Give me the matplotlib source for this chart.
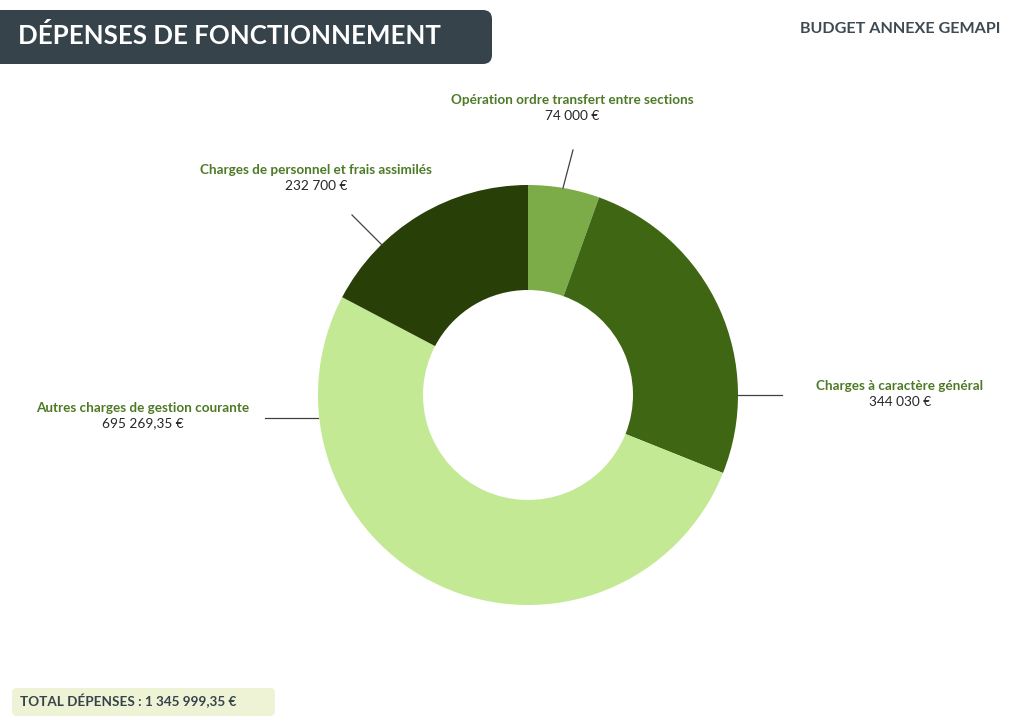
import matplotlib.pyplot as plt
from matplotlib.patches import FancyBboxPatch

# data
categories = ["Opération ordre transfert entre sections",
              "Charges à caractère général",
              "Autres charges de gestion courante",
              "Charges de personnel et frais assimilés"]
amounts = [74000, 344030, 695269.35, 232700]
amount_labels = ["74 000 €", "344 030 €", "695 269,35 €", "232 700 €"]
total_label = "TOTAL DÉPENSES : 1 345 999,35 €"

colors = ["#7BAC47", "#3F6613", "#C3E994", "#283F07"]
label_green = "#4E7A25"
dark = "#262626"

W, H = 1024, 724
def Y(y):
    return H - y

plt.rcParams['font.family'] = ['Lato', 'DejaVu Sans']

fig = plt.figure(figsize=(W/100, H/100), dpi=100)
ax = fig.add_axes([0, 0, 1, 1])

cx, cy, r = 528, Y(395), 210
ax.pie(amounts, colors=colors, startangle=90, counterclock=False,
       center=(cx, cy), radius=r, frame=True,
       wedgeprops=dict(width=r*0.5, linewidth=0))
ax.set_xlim(0, W); ax.set_ylim(0, H)
ax.set_aspect('equal')
ax.axis('off')

# label layout: text centre x, name y, leader (start, end) in pixels
layout = [
    (572, 100, (563, 188), (573, 150)),
    (900, 386, (738, 395), (782, 395)),
    (143, 408, (318, 418), (265, 418)),
    (316, 170, (382, 245), (352, 215)),
]
for name, val, (tx, ty, p0, p1) in zip(categories, amount_labels, layout):
    ax.plot([p0[0], p1[0]], [Y(p0[1]), Y(p1[1])], color="#404040", lw=0.9)
    ax.text(tx, Y(ty), name, ha='center', va='center', fontsize=9.7,
            fontweight='bold', color=label_green)
    ax.text(tx, Y(ty + 15.5), val, ha='center', va='center', fontsize=9.8,
            color=dark)

# title bar
ax.add_patch(FancyBboxPatch((-30, Y(64)), 522, 54,
                            boxstyle="round,pad=0,rounding_size=9",
                            fc="#36434B", ec="none"))
ax.text(18, Y(35), "DÉPENSES DE FONCTIONNEMENT", ha='left', va='center',
        fontsize=18.6, fontweight='bold', color="white")
ax.text(1000, Y(29), "BUDGET ANNEXE GEMAPI", ha='right', va='center',
        fontsize=11.6, fontweight='bold', color="#3E4A52")

# total box
ax.add_patch(FancyBboxPatch((12, Y(716)), 263, 28,
                            boxstyle="round,pad=0,rounding_size=5",
                            fc="#EFF3D6", ec="none"))
ax.text(20, Y(701), total_label, ha='left', va='center',
        fontsize=9.7, fontweight='bold', color="#36434B")

fig.savefig("out.png", dpi=100)
